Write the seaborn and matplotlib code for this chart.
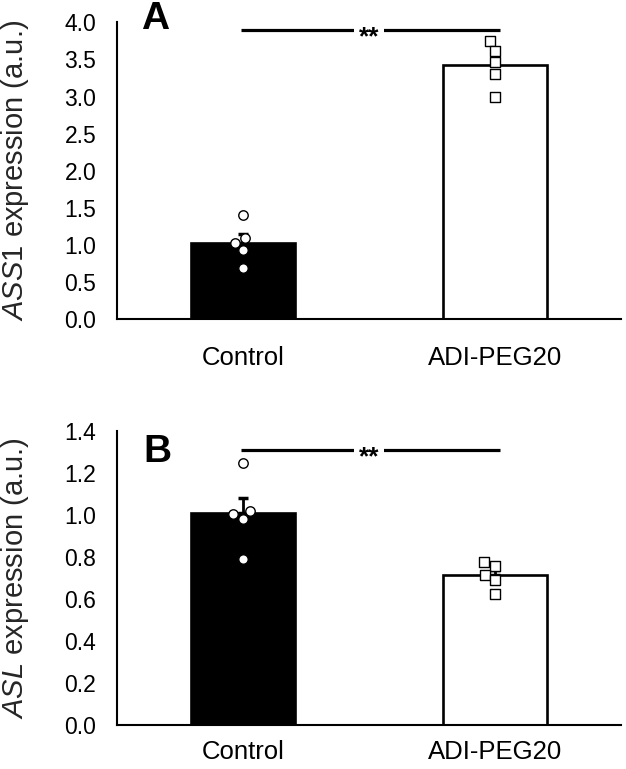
import matplotlib
matplotlib.use("Agg")
import matplotlib.pyplot as plt
import pandas as pd
import seaborn as sns

groups = ["Control", "ADI-PEG20"]

ass1_control = [1.41, 1.10, 1.03, 0.93, 0.69]
ass1_adi = [3.75, 3.62, 3.47, 3.31, 3.00]
asl_control = [1.25, 1.02, 1.005, 0.98, 0.79]
asl_adi = [0.775, 0.758, 0.714, 0.691, 0.625]

sig_y_a = 3.89
sig_y_b = 1.31


def make_df(control, adi):
    return pd.DataFrame(
        {
            "group": ["Control"] * len(control) + ["ADI-PEG20"] * len(adi),
            "value": control + adi,
        }
    )


def draw_panel(ax, df, ylim, yticks, ylabel, sig_y, xpad):
    sns.barplot(
        data=df, x="group", y="value", order=groups, errorbar=None,
        palette=["black", "white"], hue="group", legend=False,
        width=0.41, edgecolor="black", linewidth=1.9, ax=ax, zorder=1,
    )
    stats = df.groupby("group")["value"].agg(["mean", "sem"]).reindex(groups)
    ax.errorbar(
        range(len(groups)), stats["mean"], yerr=[[0] * len(groups), stats["sem"]],
        fmt="none", ecolor="black", elinewidth=2, capsize=3.5, capthick=2.5, zorder=2,
    )
    for grp, marker in zip(groups, ["o", "s"]):
        sns.swarmplot(
            data=df[df["group"] == grp], x="group", y="value", order=groups,
            marker=marker, color="white", edgecolor="black", linewidth=1,
            size=6.8, ax=ax, zorder=3,
        )
    ax.plot([-0.008, 1.02], [sig_y, sig_y], color="black", lw=2.3,
            solid_capstyle="butt", zorder=4)
    ax.annotate("**", xy=(0.5, sig_y), xytext=(0, -10), textcoords="offset points",
                ha="center", va="baseline", fontsize=19, fontweight="bold",
                bbox=dict(facecolor="white", edgecolor="none", pad=3.5), zorder=5)

    ax.set_xlim(-0.5, 1.5)
    ax.set_ylim(*ylim)
    ax.set_yticks(yticks)
    ax.set_yticklabels([f"{t:.1f}" for t in yticks])
    ax.set_xlabel("")
    ax.set_ylabel(ylabel, fontsize=21)
    ax.yaxis.set_label_coords(-0.171, 0.5)
    ax.tick_params(axis="both", length=0)
    ax.tick_params(axis="x", pad=xpad, labelsize=18.5)
    ax.tick_params(axis="y", pad=15, labelsize=16.5)
    for side in ["top", "right"]:
        ax.spines[side].set_visible(False)
    for side in ["left", "bottom"]:
        ax.spines[side].set_linewidth(1.5)
        ax.spines[side].set_color("black")


def main() -> None:
    sns.set_theme(style="white")
    plt.rcParams["font.family"] = ["Liberation Sans", "DejaVu Sans"]
    plt.rcParams["mathtext.fontset"] = "custom"
    plt.rcParams["mathtext.it"] = "Liberation Sans:italic"
    plt.rcParams["mathtext.rm"] = "Liberation Sans"
    plt.rcParams["text.color"] = "black"
    plt.rcParams["xtick.color"] = "black"
    plt.rcParams["ytick.color"] = "black"

    fig = plt.figure(figsize=(6.26, 7.69), dpi=100)
    ax_a = fig.add_axes([0.187, 0.585, 0.805, 0.386])
    ax_b = fig.add_axes([0.187, 0.0572, 0.805, 0.382])

    draw_panel(ax_a, make_df(ass1_control, ass1_adi), (0, 4.0),
               [0.0, 0.5, 1.0, 1.5, 2.0, 2.5, 3.0, 3.5, 4.0],
               r"$\it{ASS1}$ expression (a.u.)", sig_y_a, 19)
    draw_panel(ax_b, make_df(asl_control, asl_adi), (0, 1.4),
               [0.0, 0.2, 0.4, 0.6, 0.8, 1.0, 1.2, 1.4],
               r"$\it{ASL}$ expression (a.u.)", sig_y_b, 11)

    fig.text(0.226, 0.999, "A", fontsize=28, fontweight="bold", va="top", ha="left")
    fig.text(0.229, 0.436, "B", fontsize=28, fontweight="bold", va="top", ha="left")

    fig.savefig("out.png", dpi=100)
    plt.close(fig)


if __name__ == "__main__":
    main()
